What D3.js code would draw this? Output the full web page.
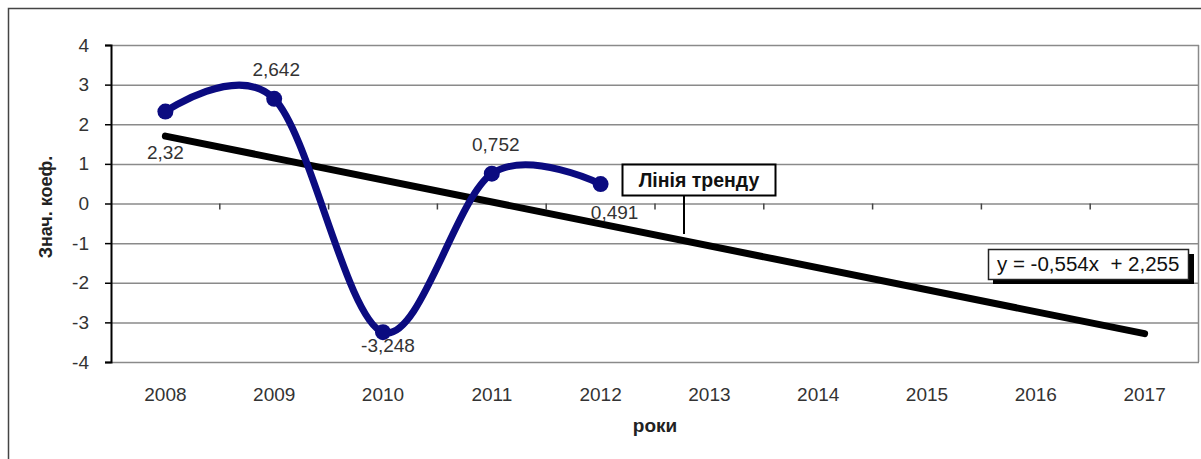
<!DOCTYPE html>
<html>
<head>
<meta charset="utf-8">
<script src="https://cdn.jsdelivr.net/npm/d3@7"></script>
<style>
  body { margin: 0; background: #fff; }
  svg { display: block; font-family: "Liberation Sans", Arial, sans-serif; }
</style>
</head>
<body>
<div id="chart"></div>
<script>
// chart data
var years = ["2008", "2009", "2010", "2011", "2012", "2013", "2014", "2015", "2016", "2017"];
var factYears = ["2008", "2009", "2010", "2011", "2012"];
var factValues = [2.32, 2.642, -3.248, 0.752, 0.491];
var factLabels = ["2,32", "2,642", "-3,248", "0,752", "0,491"];
var yTicks = [-4, -3, -2, -1, 0, 1, 2, 3, 4];
// trend: y = -0,554x + 2,255 (x = 1..10)
var trendCoef = [-0.554, 2.255];
var trendText = "y = -0,554x  + 2,255";

// label offsets from the points (manually placed in the original)
var labelDx = [0, 2, 5, 4, 14];
var labelDy = [47, -23, 20, -23, 35];

var W = 1201, H = 459;
var margin = {top: 45, right: 2, bottom: 97, left: 111},
    width = W - margin.left - margin.right,
    height = H - margin.top - margin.bottom;

var svg = d3.select("#chart").append("svg")
    .attr("width", W)
    .attr("height", H);

// outer frame (left and top edges visible)
svg.append("path")
    .attr("d", "M8.5," + H + "V8.5H" + W)
    .attr("fill", "none")
    .attr("stroke", "#444")
    .attr("stroke-width", 1.5);

var g = svg.append("g")
    .attr("transform", "translate(" + margin.left + "," + margin.top + ")");

var x = d3.scaleBand().domain(years).range([0, width]).padding(0);
var y = d3.scaleLinear().domain([-4, 4]).range([height, 0]);
var cx = function(d) { return x(d) + x.bandwidth() / 2; };

// gridlines
g.append("g")
    .call(d3.axisLeft(y).tickValues(yTicks).tickSize(-width).tickFormat(""))
    .call(function(s) {
      s.select(".domain").remove();
      s.selectAll("line").attr("stroke", "#8a8a8a").attr("stroke-width", 1.5);
    });

// right border of plot area
g.append("line")
    .attr("x1", width - 0.5).attr("x2", width - 0.5)
    .attr("y1", 0).attr("y2", height)
    .attr("stroke", "#8a8a8a").attr("stroke-width", 1.5);

// y axis
g.append("g")
    .call(d3.axisLeft(y).tickValues(yTicks).tickSize(6).tickPadding(16)
      .tickFormat(function(d) { return String(d); }))
    .call(function(s) {
      s.select(".domain").attr("stroke", "#000").attr("stroke-width", 2);
      s.selectAll("line").attr("stroke", "#000").attr("stroke-width", 1.5);
      s.selectAll("text").attr("font-size", 19).attr("fill", "#333")
        .attr("font-family", "Liberation Sans, Arial, sans-serif");
    });

// category ticks on the zero line
var bounds = years.slice(1).map(function(d) { return x(d); });
g.append("g").selectAll("line")
    .data(bounds)
    .enter().append("line")
    .attr("x1", function(d) { return d; })
    .attr("x2", function(d) { return d; })
    .attr("y1", y(0))
    .attr("y2", y(0) + 6)
    .attr("stroke", "#444")
    .attr("stroke-width", 1.5);

// x labels
g.append("g")
    .attr("transform", "translate(0," + height + ")")
    .call(d3.axisBottom(x).tickSize(0).tickPadding(26))
    .call(function(s) {
      s.select(".domain").remove();
      s.selectAll("text").attr("font-size", 19).attr("fill", "#333")
        .attr("font-family", "Liberation Sans, Arial, sans-serif");
    });

// axis titles
svg.append("text")
    .attr("x", 655).attr("y", 432)
    .attr("text-anchor", "middle")
    .attr("font-size", 19).attr("font-weight", "bold").attr("fill", "#222")
    .text("роки");

svg.append("text")
    .attr("transform", "translate(52,207) rotate(-90)")
    .attr("text-anchor", "middle")
    .attr("font-size", 18).attr("font-weight", "bold").attr("fill", "#222")
    .text("Знач. коеф.");

// trend line
var trendData = years.map(function(d, i) {
  return {year: d, value: trendCoef[0] * (i + 1) + trendCoef[1]};
});
var trendEnds = [trendData[0], trendData[trendData.length - 1]];
g.append("path")
    .datum(trendEnds)
    .attr("fill", "none")
    .attr("stroke", "#000")
    .attr("stroke-width", 7)
    .attr("stroke-linecap", "round")
    .attr("d", d3.line()
      .x(function(d) { return cx(d.year); })
      .y(function(d) { return y(d.value); }));

// fact series
var fact = factYears.map(function(d, i) { return {year: d, value: factValues[i], label: factLabels[i]}; });
g.append("path")
    .datum(fact)
    .attr("fill", "none")
    .attr("stroke", "#0b0b80")
    .attr("stroke-width", 7)
    .attr("d", d3.line()
      .curve(d3.curveCardinal.tension(0))
      .x(function(d) { return cx(d.year); })
      .y(function(d) { return y(d.value); }));

g.selectAll(".dot")
    .data(fact)
    .enter().append("circle")
    .attr("class", "dot")
    .attr("cx", function(d) { return cx(d.year); })
    .attr("cy", function(d) { return y(d.value); })
    .attr("r", 8)
    .attr("fill", "#0b0b80");

g.selectAll(".lbl")
    .data(fact)
    .enter().append("text")
    .attr("class", "lbl")
    .attr("x", function(d, i) { return cx(d.year) + labelDx[i]; })
    .attr("y", function(d, i) { return y(d.value) + labelDy[i]; })
    .attr("text-anchor", "middle")
    .attr("font-size", 19)
    .attr("fill", "#333")
    .text(function(d) { return d.label; });

// "Лінія тренду" callout
var cal = svg.append("g");
cal.append("line")
    .attr("x1", 684).attr("x2", 684).attr("y1", 196).attr("y2", 234)
    .attr("stroke", "#000").attr("stroke-width", 2);
cal.append("rect")
    .attr("x", 622.5).attr("y", 164.5).attr("width", 153).attr("height", 31)
    .attr("fill", "#fff").attr("stroke", "#000").attr("stroke-width", 2);
cal.append("text")
    .attr("x", 699).attr("y", 187)
    .attr("text-anchor", "middle")
    .attr("font-size", 19.5).attr("font-weight", "bold").attr("fill", "#111")
    .text("Лінія тренду");

// equation box with shadow
var eq = svg.append("g");
eq.append("rect")
    .attr("x", 993).attr("y", 254).attr("width", 201).attr("height", 30)
    .attr("fill", "#000");
eq.append("rect")
    .attr("x", 988.5).attr("y", 249.5).attr("width", 200).attr("height", 30)
    .attr("fill", "#fff").attr("stroke", "#222").attr("stroke-width", 1.5);
eq.append("text")
    .attr("x", 997).attr("y", 271)
    .attr("font-size", 20.5).attr("fill", "#111")
    .attr("xml:space", "preserve")
    .style("white-space", "pre")
    .text(trendText);
</script>
</body>
</html>
